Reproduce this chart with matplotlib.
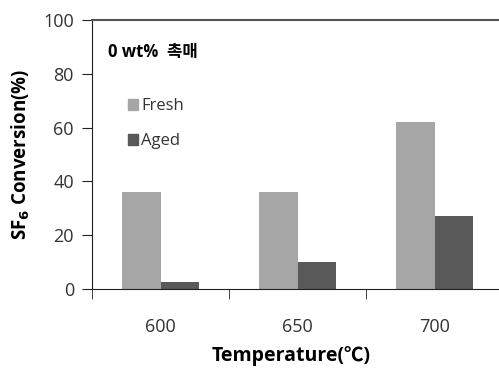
import matplotlib
matplotlib.use('Agg')
import matplotlib.pyplot as plt
import numpy as np
from matplotlib.patches import Patch

plt.rcParams['font.family'] = ['Open Sans', 'Noto Sans CJK KR', 'DejaVu Sans']

temps = ['600', '650', '700']
fresh = [36, 36, 62]
aged = [2.7, 10, 27]

fig = plt.figure(figsize=(4.99, 3.74), dpi=100)
ax = fig.add_axes([92 / 499, (374 - 289) / 374, 411 / 499, 269 / 374])

x = np.arange(len(temps))
w = 0.28
ax.bar(x - w / 2, fresh, w, color='#a6a6a6', label='Fresh')
ax.bar(x + w / 2, aged, w, color='#595959', label='Aged')

ax.set_xlim(-0.5, 2.5)
ax.set_ylim(0, 100)
ax.set_yticks([0, 20, 40, 60, 80, 100])
ax.set_xticks(x)
ax.set_xticklabels(temps)
ax.set_xticks([-0.5, 0.5, 1.5, 2.5], minor=True)
ax.tick_params(axis='x', which='major', length=0, pad=21, labelsize=13, labelcolor='#333333')
ax.tick_params(axis='x', which='minor', length=7, direction='out', color='#222222')
ax.tick_params(axis='y', length=7, direction='out', pad=6, labelsize=13,
               labelcolor='#333333', color='#222222')

ax.spines['right'].set_visible(False)
ax.spines['top'].set_color('#555555')
ax.spines['top'].set_linewidth(1.5)
ax.spines['left'].set_color('#222222')
ax.spines['bottom'].set_color('#222222')

ax.set_xlabel('Temperature(℃)', fontsize=14, fontweight='bold')
ax.xaxis.set_label_coords(0.484, -0.212)
ax.set_ylabel('SF$_\\mathbf{6}$ Conversion(%)', fontsize=13.5, fontweight='bold', labelpad=8)

ax.text(0.039, 0.88, '0 wt%  촉매', transform=ax.transAxes, fontsize=12,
        fontweight='bold', va='center', ha='left')

handles = [Patch(color='#a6a6a6', label='Fresh'), Patch(color='#595959', label='Aged')]
ax.legend(handles=handles, loc='upper left', bbox_to_anchor=(0.05, 0.765), frameon=False,
          fontsize=12, handlelength=0.65, handleheight=0.7, handletextpad=0.15,
          labelspacing=1.15, labelcolor='#333333')

plt.savefig('out.png', dpi=100)
